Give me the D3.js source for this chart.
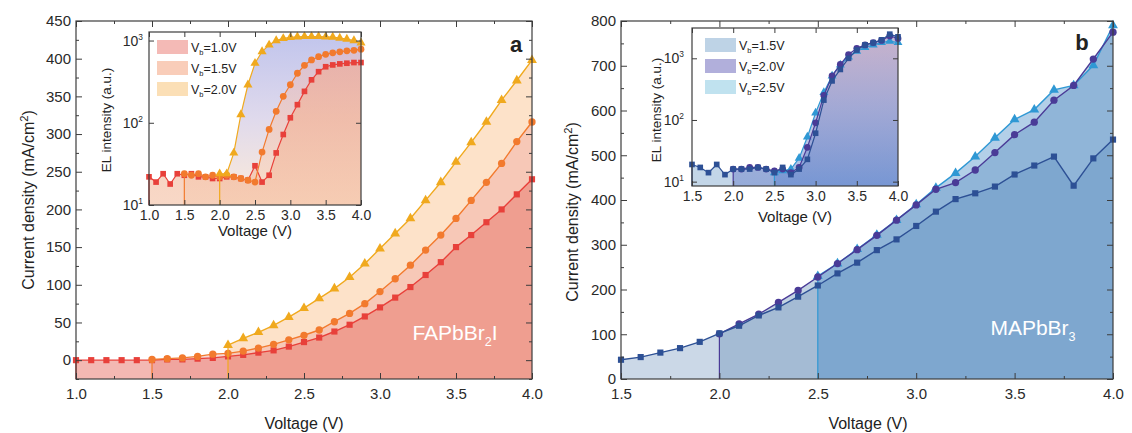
<!DOCTYPE html>
<html>
<head>
<meta charset="utf-8">
<script src="https://d3js.org/d3.v7.min.js"></script>
<style>
  body { margin: 0; background: #fff; }
</style>
</head>
<body>
<script>
// ---- values ----
// voltage grids
const volts10 = [1.0,1.1,1.2,1.3,1.4,1.5,1.6,1.7,1.8,1.9,2.0,2.1,2.2,2.3,2.4,2.5,2.6,2.7,2.8,2.9,3.0,3.1,3.2,3.3,3.4,3.5,3.6,3.7,3.8,3.9,4.0];
const volts15 = [1.5,1.6,1.7,1.8,1.9,2.0,2.1,2.2,2.3,2.4,2.5,2.6,2.7,2.8,2.9,3.0,3.1,3.2,3.3,3.4,3.5,3.6,3.7,3.8,3.9,4.0];
const volts20 = [2.0,2.1,2.2,2.3,2.4,2.5,2.6,2.7,2.8,2.9,3.0,3.1,3.2,3.3,3.4,3.5,3.6,3.7,3.8,3.9,4.0];
const volts25 = [2.5,2.6,2.7,2.8,2.9,3.0,3.1,3.2,3.3,3.4,3.5,3.6,3.7,3.8,3.9,4.0];

// panel a (FAPbBr2I) current density, mA/cm2
const jA10 = [0,0,0,0,0,0,1,1,2,3,5,7,10,13,18,24,30,38,47,58,70,83,97,113,130,150,166,183,200,220,240];
const jA15 = [1,2,3,5,8,9,12,16,21,27,33,40,51,62,75,91,108,126,146,166,188,212,236,261,290,316];
const jA20 = [20,29,37,46,57,69,82,95,110,128,148,168,188,212,236,263,289,316,345,371,398];
// panel a inset, EL intensity (a.u.)
const elA10 = [22,19,24,18,24,23,24,22,22,21,21,22,22,21,20,30,19,23,43,72,115,166,241,333,418,480,505,520,530,540,540];
const elA15 = [24,23,24,22,23,22,23,22,21,20,19,44,83,138,210,290,400,500,580,636,680,710,730,750,760,785];
const elA20 = [24,24,43,126,290,530,735,885,1000,1060,1090,1110,1120,1120,1120,1110,1100,1070,1040,1000,940];

// panel b (MAPbBr3) current density
const jB15 = [43,49,59,69,83,102,119,142,160,184,209,236,260,288,312,342,374,402,415,430,457,477,497,432,493,535];
const jB20 = [101,123,145,171,198,228,258,289,321,355,389,424,439,467,506,546,574,623,656,715,775];
const jB25 = [230,258,290,322,355,390,427,460,497,539,580,602,646,656,701,790];
// panel b inset
const elB15 = [19,17,14,19,13,16,16,16,17,16,14,17,13,16,23,61,210,430,660,1000,1360,1650,1790,1990,2460,2230];
const elB20 = [16,16,17,17,16,15,16,14,17,36,90,250,520,800,1150,1450,1650,1800,1950,2300,2100];
const elB25 = [14,15,16,24,53,130,280,520,780,1050,1300,1500,1650,1800,1900,1800];

const legendA = ["1.0V", "1.5V", "2.0V"];
const legendB = ["1.5V", "2.0V", "2.5V"];
const ticksA = [1.0,1.5,2.0,2.5,3.0,3.5,4.0];
const ticksB = [1.5,2.0,2.5,3.0,3.5,4.0];

const FONT = "'Liberation Sans', Arial, sans-serif";

const svg = d3.select("body").append("svg")
    .attr("width", 1132).attr("height", 433);
const defs = svg.append("defs");

function grad(id, stops, y1, y2) {
  const g = defs.append("linearGradient").attr("id", id)
      .attr("gradientUnits", "userSpaceOnUse")
      .attr("x1", 0).attr("x2", 0).attr("y1", y1).attr("y2", y2);
  stops.forEach((c, i) => g.append("stop")
      .attr("offset", (i / (stops.length - 1) * 100) + "%").attr("stop-color", c));
  return "url(#" + id + ")";
}

function styleAxis(a, size) {
  a.select(".domain").remove();
  a.selectAll("line").attr("stroke", "#3c3c3c");
  a.attr("font-family", FONT).attr("font-size", size);
  a.selectAll("text").attr("fill", "#2a2a2a");
  return a;
}

// frame with inward ticks on all four sides
function drawAxes(g, x, y, o) {
  const [left, right] = x.range(), [bottom, top] = y.range();
  const sets = [
    [d3.axisBottom(x), bottom, o.xTicks, o.tl, true],
    [d3.axisBottom(x), bottom, o.xMinor, o.tl / 2, false],
    [d3.axisTop(x), top, o.xTicks, o.tl, false],
    [d3.axisTop(x), top, o.xMinor, o.tl / 2, false]
  ];
  sets.forEach(([ax, pos, vals, len, lab]) => {
    styleAxis(g.append("g").attr("transform", `translate(0,${pos})`)
      .call(ax.tickValues(vals).tickSizeInner(-len).tickSizeOuter(0).tickPadding(o.xpad)
        .tickFormat(lab ? d3.format(".1f") : "")), o.font);
  });
  const ysets = [
    [d3.axisLeft(y), left, o.yTicks, o.tl, true],
    [d3.axisLeft(y), left, o.yMinor, o.tl / 2, false],
    [d3.axisRight(y), right, o.yTicks, o.tl, false],
    [d3.axisRight(y), right, o.yMinor, o.tl / 2, false]
  ];
  ysets.forEach(([ax, pos, vals, len, lab]) => {
    const a = styleAxis(g.append("g").attr("transform", `translate(${pos},0)`)
      .call(ax.tickValues(vals).tickSizeInner(-len).tickSizeOuter(0).tickPadding(o.ypad)
        .tickFormat(lab && !o.log ? d3.format("d") : "")), o.font);
    if (lab && o.log) {
      a.selectAll(".tick text").each(function(d) {
        const t = d3.select(this).text("10");
        t.append("tspan").attr("dy", -6).attr("font-size", o.font * 0.6)
          .text(Math.round(Math.log10(d)));
      });
    }
  });
  g.append("rect").attr("x", left).attr("y", top)
    .attr("width", right - left).attr("height", bottom - top)
    .attr("fill", "none").attr("stroke", "#3c3c3c").attr("stroke-width", 1.2);
}

function drawSeries(g, x, y, xs, ys, s) {
  const pts = xs.map((v, i) => [v, ys[i]]);
  const base = y.range()[0];
  g.append("path").datum(pts)
    .attr("fill", s.fill).attr("fill-opacity", s.op)
    .attr("d", d3.area().x(d => x(d[0])).y0(base).y1(d => y(d[1])));
  return pts;
}

function drawLine(g, x, y, pts, s) {
  const base = y.range()[0];
  g.append("line")
    .attr("x1", x(pts[0][0])).attr("x2", x(pts[0][0]))
    .attr("y1", base).attr("y2", y(pts[0][1]))
    .attr("stroke", s.color).attr("stroke-width", 1.2);
  g.append("path").datum(pts)
    .attr("fill", "none").attr("stroke", s.color).attr("stroke-width", s.lw)
    .attr("d", d3.line().x(d => x(d[0])).y(d => y(d[1])));
  const sym = d3.symbol().type(s.shape).size(s.size);
  g.selectAll(null).data(pts).join("path")
    .attr("transform", d => `translate(${x(d[0])},${y(d[1])})`)
    .attr("d", sym).attr("fill", s.color);
}

function label(g, x, y, parts, size, opts) {
  const t = g.append("text").attr("x", x).attr("y", y)
    .attr("font-family", FONT).attr("font-size", size)
    .attr("fill", opts.fill || "#222").attr("text-anchor", opts.anchor || "middle")
    .attr("font-weight", opts.weight || "normal");
  if (opts.rotate) t.attr("transform", `rotate(-90,${x},${y})`);
  parts.forEach(p => {
    const sp = t.append("tspan").text(p[0]);
    if (p[1] === "sub") sp.attr("font-size", size * 0.6).attr("dy", size * 0.3);
    if (p[1] === "sup") sp.attr("font-size", size * 0.7).attr("dy", -size * 0.4);
    if (p[1] === "back") sp.attr("dy", p[2]);
  });
  return t;
}

function legend(g, x0, y0, labels, fills, size) {
  labels.forEach((l, i) => {
    const cy = y0 + i * 21;
    g.append("rect").attr("x", x0).attr("y", cy - 7).attr("width", 31).attr("height", 14)
      .attr("fill", fills[i]);
    label(g, x0 + 34, cy + 4.5, [["V"], ["b", "sub"], ["=" + l, "back", -size * 0.3]], size, {anchor: "start"});
  });
}

// ================= panel a =================
const gA = svg.append("g");
const xA = d3.scaleLinear().domain([1, 4]).range([76, 532]);
const yA = d3.scaleLinear().domain([-25, 450]).range([379, 21]);
const sA = [
  {xs: volts20, ys: jA20, fill: "#fabe87", op: 0.45, color: "#f0a91e", shape: d3.symbolTriangle, size: 42},
  {xs: volts15, ys: jA15, fill: "#f0a9a2", op: 0.45, color: "#f27a2e", shape: d3.symbolCircle, size: 42},
  {xs: volts10, ys: jA10, fill: "#e8776e", op: 0.52, color: "#e8403a", shape: d3.symbolSquare, size: 38}
];
const ptsA = sA.map(s => drawSeries(gA, xA, yA, s.xs, s.ys, s));
[2, 1, 0].forEach(i => drawLine(gA, xA, yA, ptsA[i], Object.assign({lw: 1.4}, sA[i])));
drawAxes(gA, xA, yA, {xTicks: ticksA, xMinor: [1.25,1.75,2.25,2.75,3.25,3.75],
  yTicks: [0,50,100,150,200,250,300,350,400,450], yMinor: [-25,25,75,125,175,225,275,325,375,425],
  tl: 6, xpad: 9, ypad: 5, font: 15});
label(gA, 455, 340, [["FAPbBr"], ["2", "sub"], ["I", "back", -6]], 21, {fill: "#fff"});
label(gA, 516, 52, [["a"]], 22, {weight: "bold"});
label(gA, 304, 429, [["Voltage (V)"]], 16, {});
label(gA, 34, 200, [["Current density (mA/cm"], ["2", "sup"], [")", "back", 6]], 16, {rotate: true});

// inset a
const iA = svg.append("g");
const xiA = d3.scaleLinear().domain([1, 4]).range([149, 361]);
const yiA = d3.scaleLog().domain([10, 1270]).range([205, 32]);
iA.append("rect").attr("x", 149).attr("y", 32).attr("width", 212).attr("height", 173).attr("fill", "#fff");
const giA = [
  grad("gA20", ["#b5bae9", "#dad3e9", "#fde8d2"], 32, 205),
  grad("gA15", ["#e0b4c4", "#f5c4ae", "#f9d4bb"], 32, 205),
  grad("gA10", ["#eda596", "#f2b49a", "#f4c3a8"], 32, 205)
];
const siA = [
  {xs: volts20, ys: elA20, fill: giA[0], op: 0.85, color: "#f0a91e", shape: d3.symbolTriangle, size: 36},
  {xs: volts15, ys: elA15, fill: giA[1], op: 0.55, color: "#f27a2e", shape: d3.symbolCircle, size: 36},
  {xs: volts10, ys: elA10, fill: giA[2], op: 0.65, color: "#e8403a", shape: d3.symbolSquare, size: 32}
];
const ptsiA = siA.map(s => drawSeries(iA, xiA, yiA, s.xs, s.ys, s));
[2, 1, 0].forEach(i => drawLine(iA, xiA, yiA, ptsiA[i], Object.assign({lw: 1.2}, siA[i])));
drawAxes(iA, xiA, yiA, {xTicks: ticksA, xMinor: [], yTicks: [10, 100, 1000], yMinor: [], log: true,
  tl: 5, xpad: 5, ypad: 6, font: 14});
legend(iA, 157, 47, legendA, ["#f4bab6", "#f9cdb9", "#fbdfb6"], 12.5);
label(iA, 255, 236, [["Voltage (V)"]], 15, {});
label(iA, 111, 120, [["EL intensity (a.u.)"]], 13.5, {rotate: true});

// ================= panel b =================
const gB = svg.append("g");
const xB = d3.scaleLinear().domain([1.5, 4]).range([621, 1113]);
const yB = d3.scaleLinear().domain([0, 800]).range([379, 21]);
const sB = [
  {xs: volts15, ys: jB15, fill: "#7d9ec3", op: 0.4, color: "#2d5095", shape: d3.symbolSquare, size: 38},
  {xs: volts20, ys: jB20, fill: "#6890ba", op: 0.4, color: "#4a3b97", shape: d3.symbolCircle, size: 42},
  {xs: volts25, ys: jB25, fill: "#4a8cc8", op: 0.42, color: "#2f98d4", shape: d3.symbolTriangle, size: 42}
];
const ptsB = sB.map(s => drawSeries(gB, xB, yB, s.xs, s.ys, s));
[2, 1, 0].forEach(i => drawLine(gB, xB, yB, ptsB[i], Object.assign({lw: 1.4}, sB[i])));
drawAxes(gB, xB, yB, {xTicks: ticksB, xMinor: [1.75,2.25,2.75,3.25,3.75],
  yTicks: [0,100,200,300,400,500,600,700,800], yMinor: [50,150,250,350,450,550,650,750],
  tl: 6, xpad: 9, ypad: 5, font: 15});
label(gB, 1033, 335, [["MAPbBr"], ["3", "sub"]], 21, {fill: "#fff"});
label(gB, 1082, 50, [["b"]], 22, {weight: "bold"});
label(gB, 868, 429, [["Voltage (V)"]], 16, {});
label(gB, 578, 212, [["Current density (mA/cm"], ["2", "sup"], [")", "back", 6]], 16, {rotate: true});

// inset b
const iB = svg.append("g");
const xiB = d3.scaleLinear().domain([1.5, 4]).range([692, 898]);
const yiB = d3.scaleLog().domain([8.5, 3100]).range([186, 28]);
iB.append("rect").attr("x", 692).attr("y", 28).attr("width", 206).attr("height", 158).attr("fill", "#fff");
const giB = [
  grad("gB20", ["#c0a4c6", "#9c98cc", "#7088cc"], 28, 186),
  grad("gB25", ["#d4aec4", "#9aa0d2", "#5f86cf"], 28, 186)
];
const siB = [
  {xs: volts15, ys: elB15, fill: "#a9c4de", op: 0.7, color: "#2d5095", shape: d3.symbolSquare, size: 32},
  {xs: volts20, ys: elB20, fill: giB[0], op: 0.55, color: "#4a3b97", shape: d3.symbolCircle, size: 36},
  {xs: volts25, ys: elB25, fill: giB[1], op: 0.55, color: "#2f98d4", shape: d3.symbolTriangle, size: 34}
];
const ptsiB = siB.map(s => drawSeries(iB, xiB, yiB, s.xs, s.ys, s));
[2, 1, 0].forEach(i => drawLine(iB, xiB, yiB, ptsiB[i], Object.assign({lw: 1.2}, siB[i])));
drawAxes(iB, xiB, yiB, {xTicks: ticksB, xMinor: [], yTicks: [10, 100, 1000], yMinor: [], log: true,
  tl: 5, xpad: 5, ypad: 8, font: 14});
legend(iB, 705, 45, legendB, ["#bed3e6", "#b1afdb", "#c0e2ef"], 12.5);
label(iB, 795, 222, [["Voltage (V)"]], 15, {});
label(iB, 661, 110, [["EL intensity (a.u.)"]], 13.5, {rotate: true});
</script>
</body>
</html>
